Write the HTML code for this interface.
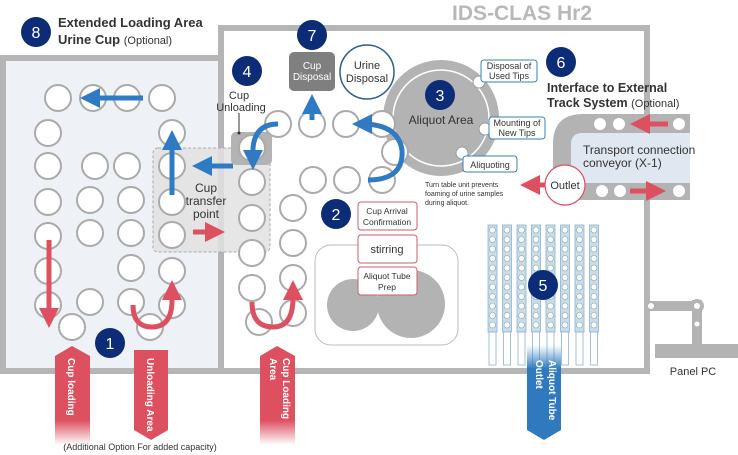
<!DOCTYPE html>
<html><head><meta charset="utf-8"><style>
html,body{margin:0;padding:0;background:#fff}
svg{display:block}
text{font-family:"Liberation Sans",sans-serif}
</style></head><body>
<svg width="738" height="455" viewBox="0 0 738 455" xmlns="http://www.w3.org/2000/svg">
<defs>
<linearGradient id="rf" x1="0" y1="0" x2="0" y2="1"><stop offset="0.75" stop-color="#dd5060"/><stop offset="1" stop-color="#dd5060" stop-opacity="0"/></linearGradient>
<linearGradient id="bf" x1="0" y1="0" x2="0" y2="1"><stop offset="0" stop-color="#3f86c8" stop-opacity="0"/><stop offset="0.25" stop-color="#2f7abf"/></linearGradient>
<marker id="ab" markerWidth="4" markerHeight="4" refX="2" refY="2" orient="auto" markerUnits="strokeWidth"><path d="M0,0 L4,2 L0,4z" fill="#2e7bc4"/></marker>
<marker id="ar" markerWidth="4" markerHeight="4" refX="2" refY="2" orient="auto" markerUnits="strokeWidth"><path d="M0,0 L4,2 L0,4z" fill="#dd5060"/></marker>
</defs>
<rect x="3" y="58" width="218" height="313" fill="#eef2f6" stroke="#b5b5b5" stroke-width="6"/>
<rect x="221" y="28" width="426" height="343" fill="#fff" stroke="#b5b5b5" stroke-width="6"/>
<text x="522" y="20" font-size="21" font-weight="bold" fill="#b8b8b8" text-anchor="middle">IDS-CLAS Hr2</text>
<rect x="153" y="148" width="117" height="104" rx="5" fill="#e2e2e2" fill-opacity="0.85" stroke="#aaa" stroke-dasharray="3,2"/>
<rect x="231" y="132" width="41" height="33" rx="5" fill="#b3b3b3"/>
<g fill="#fff" stroke="#aaa" stroke-width="2">
<circle cx="58" cy="98" r="13"/><circle cx="93" cy="98" r="13"/><circle cx="127" cy="98" r="13"/><circle cx="162" cy="98" r="13"/>
<circle cx="48" cy="133" r="13"/><circle cx="172" cy="133" r="13"/>
<circle cx="48" cy="166" r="13"/><circle cx="95" cy="166" r="13"/><circle cx="127" cy="166" r="13"/><circle cx="172" cy="166" r="13"/>
<circle cx="48" cy="202" r="13"/><circle cx="90" cy="200" r="13"/><circle cx="131" cy="200" r="13"/><circle cx="172" cy="202" r="13"/>
<circle cx="48" cy="236" r="13"/><circle cx="90" cy="233" r="13"/><circle cx="131" cy="233" r="13"/><circle cx="172" cy="235" r="13"/>
<circle cx="48" cy="271" r="13"/><circle cx="131" cy="268" r="13"/><circle cx="172" cy="271" r="13"/>
<circle cx="48" cy="305" r="13"/><circle cx="90" cy="302" r="13"/><circle cx="131" cy="302" r="13"/><circle cx="172" cy="305" r="13"/>
<circle cx="72" cy="327" r="13"/><circle cx="150" cy="327" r="13"/>
<circle cx="252" cy="148" r="13"/>
<circle cx="252" cy="182" r="13"/><circle cx="252" cy="218" r="13"/><circle cx="252" cy="253" r="13"/><circle cx="252" cy="288" r="13"/><circle cx="259" cy="322" r="13"/>
<circle cx="293" cy="208" r="13"/><circle cx="293" cy="243" r="13"/><circle cx="293" cy="278" r="13"/><circle cx="293" cy="313" r="13"/>
<circle cx="278" cy="124" r="13"/><circle cx="312" cy="124" r="13"/><circle cx="346" cy="124" r="13"/>
<circle cx="313" cy="180" r="13"/><circle cx="347" cy="180" r="13"/><circle cx="382" cy="180" r="13"/>
</g>
<circle cx="441" cy="118" r="58" fill="#b3b3b3"/>
<circle cx="441" cy="118" r="48" fill="none" stroke="#fff" stroke-width="1.5"/>
<circle cx="382" cy="124" r="13" fill="#fff" stroke="#aaa" stroke-width="2"/>
<circle cx="395" cy="152" r="13" fill="#fff" stroke="#aaa" stroke-width="2"/>
<text x="441" y="124" font-size="12" fill="#333" text-anchor="middle">Aliquot Area</text>
<circle cx="479" cy="82" r="6" fill="#fff" stroke="#999"/>
<circle cx="485" cy="129" r="6" fill="#fff" stroke="#999"/>
<circle cx="462" cy="153" r="6" fill="#fff" stroke="#999"/>
<g fill="#fff" stroke="#3a7fb5" stroke-width="1">
<rect x="481" y="60" width="56" height="22" rx="3"/>
<rect x="489" y="117" width="56" height="22" rx="3"/>
<rect x="463" y="156" width="54" height="16" rx="3"/>
</g>
<g font-size="9" fill="#333" text-anchor="middle">
<text x="509" y="69">Disposal of</text><text x="509" y="79">Used Tips</text>
<text x="517" y="126">Mounting of</text><text x="517" y="136">New Tips</text>
<text x="490" y="168">Aliquoting</text>
</g>
<g font-size="7" fill="#333"><text x="425" y="187">Turn table unit prevents</text><text x="425" y="196">foaming of urine samples</text><text x="425" y="205">during aliquot.</text></g>
<circle cx="367" cy="72" r="27" fill="#fff" stroke="#2b5f8f" stroke-width="1.5"/>
<text x="367" y="69" font-size="11" fill="#333" text-anchor="middle">Urine</text><text x="367" y="82" font-size="11" fill="#333" text-anchor="middle">Disposal</text>
<rect x="289" y="52" width="46" height="39" rx="5" fill="#7f7f7f"/>
<text x="312" y="69" font-size="10" fill="#fff" text-anchor="middle">Cup</text><text x="312" y="80" font-size="10" fill="#fff" text-anchor="middle">Disposal</text>
<text x="239" y="99" font-size="11" fill="#333" text-anchor="middle">Cup</text><text x="241" y="111" font-size="11" fill="#333" text-anchor="middle">Unloading</text>
<line x1="239" y1="113" x2="239" y2="133" stroke="#333"/><circle cx="239" cy="133" r="1.5" fill="#333"/>
<text x="206" y="192" font-size="12" fill="#333" text-anchor="middle">Cup</text><text x="206" y="205" font-size="12" fill="#333" text-anchor="middle">transfer</text><text x="206" y="218" font-size="12" fill="#333" text-anchor="middle">point</text>
<path d="M690,114 L583,114 Q553,114 553,144 L553,200 L690,200 Z" fill="#b3b3b3"/>
<rect x="571" y="133" width="119" height="50" rx="10" fill="#dfe7f0"/>
<rect x="600" y="133" width="90" height="50" fill="#dfe7f0"/>
<g fill="#fff"><circle cx="600" cy="124" r="6"/><circle cx="619" cy="124" r="6"/><circle cx="679" cy="124" r="6"/><circle cx="602" cy="191" r="6"/><circle cx="620" cy="191" r="6"/><circle cx="679" cy="191" r="6"/></g>
<text x="583" y="154" font-size="12" fill="#333">Transport connection</text>
<text x="583" y="167" font-size="12" fill="#333">conveyor (X-1)</text>
<line x1="668" y1="124" x2="640" y2="124" stroke="#dd5060" stroke-width="5" marker-end="url(#ar)"/>
<line x1="630" y1="191" x2="656" y2="191" stroke="#dd5060" stroke-width="5" marker-end="url(#ar)"/>
<line x1="545" y1="185" x2="530" y2="185" stroke="#dd5060" stroke-width="5" marker-end="url(#ar)"/>
<circle cx="565" cy="185" r="20" fill="#fff" stroke="#dd5060" stroke-width="1.2"/>
<text x="565" y="189" font-size="11" fill="#333" text-anchor="middle">Outlet</text>
<text x="547" y="92" font-size="12.5" font-weight="bold" fill="#333">Interface to External</text>
<text x="547" y="107" font-size="12.5" font-weight="bold" fill="#333">Track System <tspan font-weight="normal" font-size="11">(Optional)</tspan></text>
<rect x="315" y="245" width="143" height="100" rx="16" fill="#fff" stroke="#bbb"/>
<circle cx="353" cy="305" r="26" fill="#b3b3b3"/><circle cx="411" cy="304" r="34" fill="#b3b3b3"/>
<g fill="#fff" stroke="#cc5f6c" stroke-width="1">
<rect x="358" y="202" width="59" height="28" rx="3"/><rect x="358" y="235" width="59" height="28" rx="3"/><rect x="358" y="267" width="59" height="28" rx="3"/>
</g>
<g fill="#333" text-anchor="middle"><text x="387" y="214" font-size="8.5">Cup Arrival</text><text x="387" y="225" font-size="8.5">Confirmation</text><text x="387" y="253" font-size="11">stirring</text><text x="387" y="279" font-size="8.5">Aliquot Tube</text><text x="387" y="290" font-size="8.5">Prep</text></g>
<g>
<g id="rk"><rect x="488" y="225" width="9" height="107" fill="#c9dcea" stroke="#8db3d2" stroke-width="0.8"/><rect x="489" y="332" width="7" height="33" fill="#fff" stroke="#8db3d2" stroke-width="0.8"/>
<g fill="#fff" stroke="#8aa" stroke-width="0.6"><circle cx="492.5" cy="230" r="3"/><circle cx="492.5" cy="239.5" r="3"/><circle cx="492.5" cy="249" r="3"/><circle cx="492.5" cy="258.5" r="3"/><circle cx="492.5" cy="268" r="3"/><circle cx="492.5" cy="277.5" r="3"/><circle cx="492.5" cy="287" r="3"/><circle cx="492.5" cy="296.5" r="3"/><circle cx="492.5" cy="306" r="3"/><circle cx="492.5" cy="315.5" r="3"/><circle cx="492.5" cy="325" r="3"/></g></g>
<use href="#rk" x="14.5"/><use href="#rk" x="29"/><use href="#rk" x="43.5"/><use href="#rk" x="58"/><use href="#rk" x="72.5"/><use href="#rk" x="87"/><use href="#rk" x="101.5"/>
</g>
<g fill="#b3b3b3"><rect x="647" y="301" width="52" height="10"/><rect x="692" y="300" width="10" height="46"/><rect x="655" y="344" width="83" height="14"/><circle cx="697" cy="306" r="7"/></g>
<circle cx="651" cy="306" r="3" fill="#fff"/><circle cx="697" cy="306" r="3" fill="#fff"/><circle cx="697" cy="324" r="2.5" fill="#fff"/>
<text x="693" y="375" font-size="11" fill="#333" text-anchor="middle">Panel PC</text>
<g stroke="#2e7bc4" stroke-width="5" fill="none">
<line x1="143" y1="98" x2="90" y2="98" marker-end="url(#ab)"/>
<line x1="172" y1="195" x2="172" y2="140" marker-end="url(#ab)"/>
<line x1="233" y1="166" x2="202" y2="166" marker-end="url(#ab)"/>
<path d="M278,124 Q255,124 253,148 L253,160" marker-end="url(#ab)"/>
<line x1="312" y1="120" x2="312" y2="104" marker-end="url(#ab)"/>
<path d="M368,180 Q404,180 402,150 Q398,124 362,124" marker-end="url(#ab)"/>
</g>
<g stroke="#dd5060" stroke-width="5" fill="none">
<line x1="49" y1="240" x2="49" y2="318" marker-end="url(#ar)"/>
<path d="M133,305 Q133,327 152,327 Q172,327 172,300 L172,290" marker-end="url(#ar)"/>
<line x1="193" y1="232" x2="215" y2="232" marker-end="url(#ar)"/>
<path d="M252,302 Q252,327 273,327 Q293,327 293,298 L293,290" marker-end="url(#ar)"/>
</g>
<path d="M55,356 L72,346 L90,356 L90,445 L55,445Z" fill="url(#rf)"/>
<path d="M134,350 L168,350 L168,430 L151,440 L134,430Z" fill="#dd5060"/>
<path d="M260,356 L277,346 L295,356 L295,445 L260,445Z" fill="url(#rf)"/>
<path d="M527,345 L561,345 L561,430 L544,440 L527,430Z" fill="url(#bf)"/>
<g fill="#fff" font-size="10" font-weight="bold">
<text transform="translate(68,358) rotate(90)">Cup loading</text>
<text transform="translate(147,358) rotate(90)">Unloading Area</text>
<text transform="translate(283,358) rotate(90)">Cup Loading</text><text transform="translate(270,358) rotate(90)">Area</text>
<text transform="translate(549,360) rotate(90)">Aliquot Tube</text><text transform="translate(536,360) rotate(90)">Outlet</text>
</g>
<text x="140" y="450" font-size="9" fill="#333" text-anchor="middle">(Additional Option For added capacity)</text>
<text x="58" y="27" font-size="13" font-weight="bold" fill="#333">Extended Loading Area</text>
<text x="58" y="44" font-size="13" font-weight="bold" fill="#333">Urine Cup <tspan font-weight="normal" font-size="11">(Optional)</tspan></text>
<g fill="#0c2c78"><circle cx="36" cy="32" r="15"/><circle cx="312" cy="35" r="15"/><circle cx="247" cy="71" r="15"/><circle cx="440" cy="95" r="15"/><circle cx="561" cy="62" r="15"/><circle cx="336" cy="214" r="15"/><circle cx="543" cy="285" r="15"/><circle cx="110" cy="343" r="15"/></g>
<g fill="#fff" font-size="16" text-anchor="middle"><text x="36" y="38">8</text><text x="312" y="41">7</text><text x="247" y="77">4</text><text x="440" y="101">3</text><text x="561" y="68">6</text><text x="336" y="220">2</text><text x="543" y="291">5</text><text x="110" y="349">1</text></g>
</svg>
</body></html>
